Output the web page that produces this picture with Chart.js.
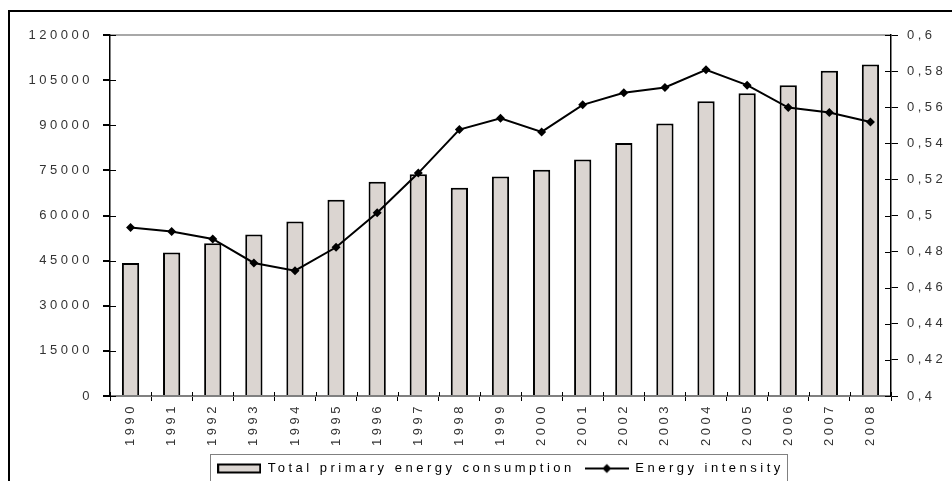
<!DOCTYPE html>
<html>
<head>
<meta charset="utf-8">
<script src="https://cdn.jsdelivr.net/npm/chart.js@4.4.1/dist/chart.umd.min.js"></script>
<style>
html, body { margin: 0; padding: 0; background: #fff; }
</style>
</head>
<body>
<canvas id="myChart" width="952" height="481"></canvas>
<script>
var annees = ['1990', '1991', '1992', '1993', '1994', '1995', '1996', '1997', '1998', '1999',
              '2000', '2001', '2002', '2003', '2004', '2005', '2006', '2007', '2008'];
var consommation = [44200, 47700, 50800, 53700, 58000, 65200, 71200, 73700, 69200, 73000,
                    75200, 78600, 84100, 90600, 98000, 100600, 103300, 108100, 110200];
var intensite = [0.4933, 0.4911, 0.4870, 0.4737, 0.4694, 0.4824, 0.5015, 0.5235, 0.5476, 0.5539,
                 0.5463, 0.5613, 0.5680, 0.5709, 0.5807, 0.5722, 0.5598, 0.5571, 0.5518];
var nomBarres = 'Total primary energy consumption';
var nomLigne  = 'Energy intensity';
var axeGauche = { min: 0, max: 120000, pas: 15000 };
var axeDroite = { min: 0.4, max: 0.6, pas: 0.02 };

var couleurBarre = '#dbd5d1';
var police = { family: "'Liberation Sans', Arial, sans-serif", size: 13 };

function swatchBarre() {
    var c = document.createElement('canvas');
    c.width = 44; c.height = 12;
    var g = c.getContext('2d');
    g.fillStyle = couleurBarre;
    g.fillRect(1, 2, 42, 8);
    g.strokeStyle = '#000';
    g.lineWidth = 2;
    g.strokeRect(1, 2, 42, 8);
    return c;
}

function swatchLigne() {
    var c = document.createElement('canvas');
    c.width = 44; c.height = 12;
    var g = c.getContext('2d');
    g.strokeStyle = '#000';
    g.lineWidth = 2;
    g.beginPath(); g.moveTo(0, 6); g.lineTo(44, 6); g.stroke();
    g.fillStyle = '#000';
    g.beginPath(); g.moveTo(22, 1.5); g.lineTo(26.5, 6); g.lineTo(22, 10.5); g.lineTo(17.5, 6); g.closePath(); g.fill();
    return c;
}

// espacement des lettres comme dans l'original
var espacement = {
    id: 'espacement',
    beforeLayout: function(chart) { chart.ctx.letterSpacing = '3.5px'; },
    beforeDraw: function(chart) { chart.ctx.letterSpacing = '3.5px'; }
};

// petits traits qui traversent les axes + cadres
var decor = {
    id: 'decor',
    afterDatasetsDraw: function(chart) {
        var ctx = chart.ctx;
        var a = chart.chartArea;
        var x = chart.scales.x, yg = chart.scales.y, yd = chart.scales.y1;
        ctx.save();
        ctx.strokeStyle = '#000';
        ctx.lineWidth = 1;
        ctx.beginPath();
        yg.ticks.forEach(function(t) {
            var p = Math.round(yg.getPixelForValue(t.value)) + 0.5;
            ctx.moveTo(a.left, p); ctx.lineTo(a.left + 6, p);
        });
        yd.ticks.forEach(function(t) {
            var p = Math.round(yd.getPixelForValue(t.value)) + 0.5;
            ctx.moveTo(a.right - 6, p); ctx.lineTo(a.right, p);
        });
        for (var i = 0; i <= annees.length; i++) {
            var px = Math.round(x.getPixelForValue(i - 0.5)) + 0.5;
            ctx.moveTo(px, a.bottom - 4); ctx.lineTo(px, a.bottom);
        }
        ctx.stroke();
        ctx.restore();
    },
    afterDraw: function(chart) {
        var ctx = chart.ctx;
        ctx.save();
        // cadre exterieur
        ctx.strokeStyle = '#000';
        ctx.lineWidth = 2;
        ctx.beginPath();
        ctx.moveTo(9, 490); ctx.lineTo(9, 11); ctx.lineTo(960, 11);
        ctx.stroke();
        // cadre de la legende
        var boites = chart.legend.legendHitBoxes;
        if (boites && boites.length) {
            var g = Infinity, d = -Infinity, h = Infinity;
            boites.forEach(function(b) {
                g = Math.min(g, b.left);
                d = Math.max(d, b.left + b.width);
                h = Math.min(h, b.top);
            });
            ctx.strokeStyle = '#808080';
            ctx.lineWidth = 1;
            ctx.strokeRect(Math.round(g - 7) + 0.5, Math.round(h - 8) + 0.5, Math.round(d - g + 10), 60);
        }
        ctx.restore();
    }
};

var canvas  = document.getElementById('myChart');
var context = canvas.getContext('2d');

var myChart = new Chart(context, {
    type: 'bar',
    data: {
        labels: annees,
        datasets: [{
            type: 'bar',
            label: nomBarres,
            data: consommation,
            yAxisID: 'y',
            backgroundColor: couleurBarre,
            borderColor: '#000',
            borderWidth: 2,
            barPercentage: 0.42,
            categoryPercentage: 1,
            order: 2
        }, {
            type: 'line',
            label: nomLigne,
            data: intensite,
            yAxisID: 'y1',
            borderColor: '#000',
            borderWidth: 2,
            backgroundColor: '#000',
            pointStyle: 'rectRot',
            pointRadius: 4.5,
            pointBorderWidth: 0,
            tension: 0,
            order: 1
        }]
    },
    options: {
        responsive: false,
        animation: false,
        layout: { padding: { top: 35, left: 0, right: 0, bottom: -4 } },
        plugins: {
            tooltip: { enabled: false },
            legend: {
                position: 'bottom',
                fullSize: false,
                labels: {
                    font: police,
                    color: '#111',
                    usePointStyle: true,
                    pointStyleWidth: 44,
                    boxHeight: 12,
                    padding: 10,
                    generateLabels: function() {
                        return [
                            { text: nomBarres, pointStyle: swatchBarre(), fillStyle: couleurBarre, strokeStyle: '#000', lineWidth: 0, datasetIndex: 0, hidden: false },
                            { text: nomLigne, pointStyle: swatchLigne(), fillStyle: '#000', strokeStyle: '#000', lineWidth: 0, datasetIndex: 1, hidden: false }
                        ];
                    }
                }
            }
        },
        scales: {
            x: {
                offset: true,
                grid: { display: true, offset: true, drawOnChartArea: false, tickLength: 5, tickColor: '#000', tickWidth: 1 },
                border: { color: '#808080', width: 2 },
                ticks: { font: police, color: '#333', maxRotation: 90, minRotation: 90, padding: 2, autoSkip: false },
                afterFit: function(s) { s.height = 56; }
            },
            y: {
                position: 'left',
                min: axeGauche.min,
                max: axeGauche.max,
                ticks: { stepSize: axeGauche.pas, font: police, color: '#333', padding: 10,
                         callback: function(v) { return String(v); } },
                grid: {
                    color: function(c) { return c.tick && c.tick.value === axeGauche.max ? '#a8a8a8' : 'rgba(0,0,0,0)'; },
                    lineWidth: 2,
                    tickColor: '#000',
                    tickLength: 7
                },
                border: { color: '#000', width: 1.5 },
                afterFit: function(s) { s.width = 110; }
            },
            y1: {
                position: 'right',
                min: axeDroite.min,
                max: axeDroite.max,
                ticks: { stepSize: axeDroite.pas, font: police, color: '#333', padding: 9,
                         callback: function(v) { return String(Math.round(v * 100) / 100).replace('.', ','); } },
                grid: { drawOnChartArea: false, tickColor: '#000', tickLength: 7 },
                border: { color: '#000', width: 1.5 },
                afterFit: function(s) { s.width = 61; }
            }
        }
    },
    plugins: [espacement, decor]
});
</script>
</body>
</html>
